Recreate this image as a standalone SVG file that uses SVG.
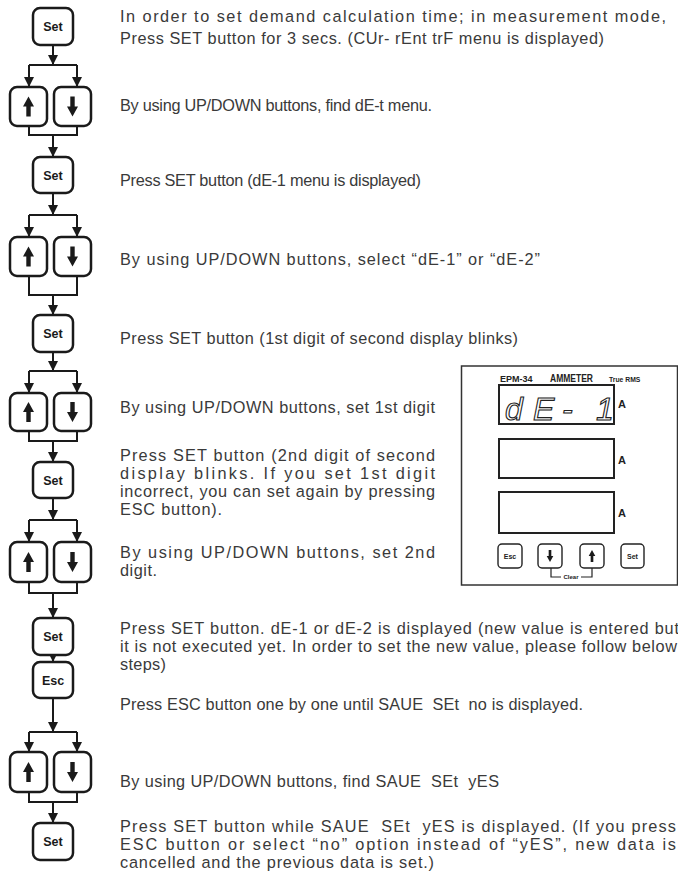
<svg xmlns="http://www.w3.org/2000/svg" xmlns:xlink="http://www.w3.org/1999/xlink" width="678" height="874" viewBox="0 0 678 874">
<style>
.btn{fill:#fff;stroke:#1a1a1a;stroke-width:2.5}
.bl{font-family:"Liberation Sans",Arial,sans-serif;font-weight:bold;font-size:12.5px;fill:#1a1a1a;text-anchor:middle}
.con{fill:none;stroke:#1a1a1a;stroke-width:2}
.ar{fill:none;stroke:#1a1a1a;stroke-width:2;marker-end:url(#ah)}
.t{font-family:"Liberation Sans",Arial,sans-serif;font-size:16.3px;fill:#3a3a3a}
.pn{fill:#fff;stroke:#333;stroke-width:1.5}
.disp{fill:#fff;stroke:#222;stroke-width:2}
.pb{fill:#fff;stroke:#222;stroke-width:1.4}
.pt{font-family:"Liberation Sans",Arial,sans-serif;font-weight:bold;fill:#222}
.seg{font-family:"Liberation Sans",Arial,sans-serif;font-style:italic;font-size:32px;fill:#fff;stroke:#222;stroke-width:1.1}
</style>
<defs>
<marker id="ah" markerUnits="userSpaceOnUse" markerWidth="10" markerHeight="11" refX="10" refY="5" orient="auto" viewBox="0 0 10 10">
<path d="M0,0 L10,5 L0,10 Z" fill="#1a1a1a"/>
</marker>
<path id="upi" d="M0,-10 L5.5,0 L2.2,0 L2.2,10 L-2.2,10 L-2.2,0 L-5.5,0 Z" fill="#1a1a1a"/>
</defs>

<g id="connectors">
<path class="ar" d="M53,45 V65"/><path class="con" d="M29,65 H77"/><path class="ar" d="M29,65 V87"/><path class="ar" d="M77,65 V87"/>
<path class="con" d="M29,126 V135 H77 V126"/><path class="ar" d="M53,135 V157"/>
<path class="ar" d="M53,193 V215"/><path class="con" d="M29,215 H77"/><path class="ar" d="M29,215 V237"/><path class="ar" d="M77,215 V237"/>
<path class="con" d="M29,276 V295 H77 V276"/><path class="ar" d="M53,295 V315"/>
<path class="ar" d="M53,352 V371"/><path class="con" d="M29,371 H77"/><path class="ar" d="M29,371 V393"/><path class="ar" d="M77,371 V393"/>
<path class="con" d="M29,431 V441 H77 V431"/><path class="ar" d="M53,441 V462"/>
<path class="ar" d="M53,498 V520"/><path class="con" d="M29,520 H77"/><path class="ar" d="M29,520 V542"/><path class="ar" d="M77,520 V542"/>
<path class="con" d="M29,582 V593 H77 V582"/><path class="ar" d="M53,593 V618"/>
<path class="ar" d="M53,655 V662"/>
<path class="ar" d="M53,698 V732"/><path class="con" d="M29,732 H77"/><path class="ar" d="M29,732 V752"/><path class="ar" d="M77,732 V752"/>
<path class="con" d="M29,792 V802 H77 V792"/><path class="ar" d="M53,802 V823"/>
</g>

<g id="set1"><rect class="btn" x="33" y="8" width="40" height="37" rx="7"/><text class="bl" x="53" y="31">Set</text></g>
<g id="ud1"><rect class="btn" x="10" y="87" width="37" height="39" rx="7"/><use xlink:href="#upi" x="28.5" y="106.5"/><rect class="btn" x="54" y="87" width="37" height="39" rx="7"/><use xlink:href="#upi" transform="translate(72.5,106.5) rotate(180)"/></g>
<g id="set2"><rect class="btn" x="33" y="157" width="40" height="36" rx="7"/><text class="bl" x="53" y="180">Set</text></g>
<g id="ud2"><rect class="btn" x="10" y="237" width="37" height="39" rx="7"/><use xlink:href="#upi" x="28.5" y="256.5"/><rect class="btn" x="54" y="237" width="37" height="39" rx="7"/><use xlink:href="#upi" transform="translate(72.5,256.5) rotate(180)"/></g>
<g id="set3"><rect class="btn" x="33" y="315" width="40" height="37" rx="7"/><text class="bl" x="53" y="338">Set</text></g>
<g id="ud3"><rect class="btn" x="10" y="393" width="37" height="38" rx="7"/><use xlink:href="#upi" x="28.5" y="412"/><rect class="btn" x="54" y="393" width="37" height="38" rx="7"/><use xlink:href="#upi" transform="translate(72.5,412) rotate(180)"/></g>
<g id="set4"><rect class="btn" x="33" y="462" width="40" height="36" rx="7"/><text class="bl" x="53" y="485">Set</text></g>
<g id="ud4"><rect class="btn" x="10" y="542" width="37" height="40" rx="7"/><use xlink:href="#upi" x="28.5" y="562"/><rect class="btn" x="54" y="542" width="37" height="40" rx="7"/><use xlink:href="#upi" transform="translate(72.5,562) rotate(180)"/></g>
<g id="set5"><rect class="btn" x="33" y="618" width="40" height="37" rx="7"/><text class="bl" x="53" y="641">Set</text></g>
<g id="esc"><rect class="btn" x="33" y="662" width="40" height="36" rx="7"/><text class="bl" x="53" y="685">Esc</text></g>
<g id="ud5"><rect class="btn" x="10" y="752" width="37" height="40" rx="7"/><use xlink:href="#upi" x="28.5" y="772"/><rect class="btn" x="54" y="752" width="37" height="40" rx="7"/><use xlink:href="#upi" transform="translate(72.5,772) rotate(180)"/></g>
<g id="set6"><rect class="btn" x="33" y="823" width="40" height="37" rx="7"/><text class="bl" x="53" y="846">Set</text></g>

<g id="texts">
<text class="t" x="120" y="22" textLength="546" lengthAdjust="spacing">In order to set demand calculation time; in measurement mode,</text>
<text class="t" x="120" y="44" textLength="484" lengthAdjust="spacing">Press SET button for 3 secs. (CUr- rEnt trF menu is displayed)</text>
<text class="t" x="120" y="111" textLength="312" lengthAdjust="spacing">By using UP/DOWN buttons, find dE-t menu.</text>
<text class="t" x="120" y="186" textLength="301" lengthAdjust="spacing">Press SET button (dE-1 menu is displayed)</text>
<text class="t" x="120" y="265" textLength="420" lengthAdjust="spacing">By using UP/DOWN buttons, select “dE-1” or “dE-2”</text>
<text class="t" x="120" y="344" textLength="398" lengthAdjust="spacing">Press SET button (1st digit of second display blinks)</text>
<text class="t" x="120" y="413" textLength="315" lengthAdjust="spacing">By using UP/DOWN buttons, set 1st digit</text>
<text class="t" x="120" y="461" textLength="315" lengthAdjust="spacing">Press SET button (2nd digit of second</text>
<text class="t" x="120" y="479" textLength="315" lengthAdjust="spacing">display blinks. If you set 1st digit</text>
<text class="t" x="120" y="497" textLength="315" lengthAdjust="spacing">incorrect, you can set again by pressing</text>
<text class="t" x="120" y="515" textLength="102" lengthAdjust="spacing">ESC button).</text>
<text class="t" x="120" y="558" textLength="315" lengthAdjust="spacing">By using UP/DOWN buttons, set 2nd</text>
<text class="t" x="120" y="576" textLength="37" lengthAdjust="spacing">digit.</text>
<text class="t" x="120" y="634" textLength="559" lengthAdjust="spacing">Press SET button. dE-1 or dE-2 is displayed (new value is entered but</text>
<text class="t" x="120" y="652" textLength="557" lengthAdjust="spacing">it is not executed yet. In order to set the new value, please follow below</text>
<text class="t" x="120" y="670" textLength="46" lengthAdjust="spacing">steps)</text>
<text class="t" x="120" y="710" textLength="463" lengthAdjust="spacing" xml:space="preserve">Press ESC button one by one until SAUE  SEt  no is displayed.</text>
<text class="t" x="120" y="787" textLength="379" lengthAdjust="spacing" xml:space="preserve">By using UP/DOWN buttons, find SAUE  SEt  yES</text>
<text class="t" x="120" y="832" textLength="556" lengthAdjust="spacing" xml:space="preserve">Press SET button while SAUE  SEt  yES is displayed. (If you press</text>
<text class="t" x="120" y="850" textLength="556" lengthAdjust="spacing">ESC button or select “no” option instead of “yES”, new data is</text>
<text class="t" x="120" y="868" textLength="314" lengthAdjust="spacing">cancelled and the previous data is set.)</text>
</g>

<g id="meter">
<rect class="pn" x="461.5" y="366" width="216" height="219"/>
<text class="pt" x="500" y="381.5" font-size="9">EPM-34</text>
<text class="pt" x="550" y="382" font-size="11" textLength="43" lengthAdjust="spacingAndGlyphs">AMMETER</text>
<text class="pt" x="609" y="382" font-size="6.8">True RMS</text>
<rect class="disp" x="499" y="385" width="115" height="39"/>
<text class="seg" x="505 533 562 596" y="420">dE-1</text>
<text class="pt" x="618" y="408" font-size="11">A</text>
<rect class="disp" x="499" y="439" width="115" height="39"/>
<text class="pt" x="618" y="464" font-size="11">A</text>
<rect class="disp" x="499" y="492" width="115" height="41"/>
<text class="pt" x="618" y="517" font-size="11">A</text>
<rect class="pb" x="498" y="544" width="24" height="24" rx="4"/>
<text class="pt" x="510" y="559" font-size="7" text-anchor="middle">Esc</text>
<rect class="pb" x="538" y="544" width="24" height="24" rx="4"/>
<use xlink:href="#upi" transform="translate(550,556) rotate(180) scale(0.6)"/>
<rect class="pb" x="580" y="544" width="24" height="24" rx="4"/>
<use xlink:href="#upi" transform="translate(592,556) scale(0.6)"/>
<rect class="pb" x="621" y="544" width="23" height="24" rx="4"/>
<text class="pt" x="632.5" y="559" font-size="7" text-anchor="middle">Set</text>
<path d="M551,568 V577 H561 M581,577 H592 V568" fill="none" stroke="#222" stroke-width="1.2"/>
<text class="pt" x="571" y="579" font-size="6" text-anchor="middle">Clear</text>
</g>
</svg>
